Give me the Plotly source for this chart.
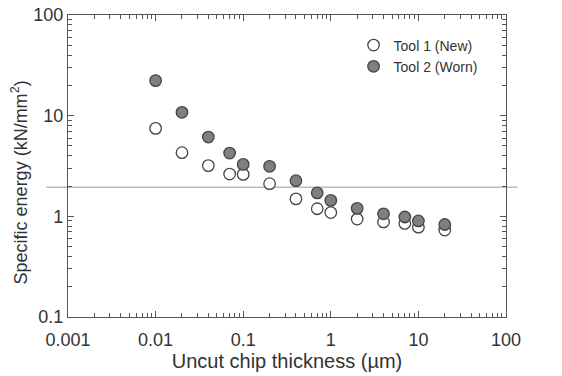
import plotly.graph_objects as go

thickness = [0.01, 0.02, 0.04, 0.07, 0.1, 0.2, 0.4, 0.7, 1.0, 2, 4, 7, 10, 20]
tool1_new = [7.48, 4.29, 3.19, 2.63, 2.61, 2.11, 1.49, 1.19, 1.09, 0.94, 0.88, 0.85, 0.78, 0.73]
tool2_worn = [22.3, 10.8, 6.13, 4.25, 3.28, 3.14, 2.26, 1.71, 1.44, 1.2, 1.06, 0.985, 0.90, 0.83]
ref_level = 1.95

x_ticks = [0.001, 0.01, 0.1, 1, 10, 100]
x_labels = ["0.001", "0.01", "0.1", "1", "10", "100"]
y_ticks = [0.1, 1, 10, 100]
y_labels = ["0.1", "1", "10", "100"]

axis_col = "#555555"
font_fam = "Liberation Sans, Arial, sans-serif"

fig = go.Figure()
fig.add_trace(go.Scatter(
    x=thickness, y=tool1_new, mode="markers", name="Tool 1 (New)",
    marker=dict(size=11.5, color="white", line=dict(color="#444444", width=1.3)),
))
fig.add_trace(go.Scatter(
    x=thickness, y=tool2_worn, mode="markers", name="Tool 2 (Worn)",
    marker=dict(size=11.5, color="#7f7f7f", line=dict(color="#444444", width=1.3)),
))

fig.add_shape(type="line", xref="paper", yref="y", x0=-0.05, x1=1.027,
              y0=ref_level, y1=ref_level, line=dict(color="#bdbdbd", width=1.5),
              layer="below")

common = dict(
    type="log", showgrid=False, zeroline=False, showline=True, linecolor=axis_col,
    linewidth=1.2, mirror="allticks", ticks="inside", ticklen=6, tickcolor=axis_col,
    tickwidth=1, tickfont=dict(size=18, color="#333333", family=font_fam),
    minor=dict(ticks="inside", ticklen=4, tickcolor=axis_col, dtick="D1", showgrid=False),
    automargin=False,
)

fig.update_xaxes(range=[-3, 2], tickvals=x_ticks, ticktext=x_labels, ticklabelstandoff=6,
                 title=dict(text="Uncut chip thickness (µm)", standoff=5,
                            font=dict(size=20, color="#333333", family=font_fam)),
                 **common)
fig.update_yaxes(range=[-1, 2], tickvals=y_ticks, ticktext=y_labels, **common)

fig.add_annotation(text="Specific energy (kN/mm<sup>2</sup>)", xref="paper", yref="paper",
                   x=-0.11, y=0.445, textangle=-90, showarrow=False,
                   xanchor="center", yanchor="middle",
                   font=dict(size=18, color="#333333", family=font_fam))

fig.update_layout(
    width=562, height=376,
    margin=dict(l=68, r=56, t=15, b=59),
    paper_bgcolor="white", plot_bgcolor="white",
    showlegend=True,
    legend=dict(x=0.652, y=0.952, xanchor="left", yanchor="top",
                bgcolor="rgba(0,0,0,0)", font=dict(size=14, color="#333333", family=font_fam),
                itemwidth=30, tracegroupgap=0),
)

fig.write_html("out.html")
